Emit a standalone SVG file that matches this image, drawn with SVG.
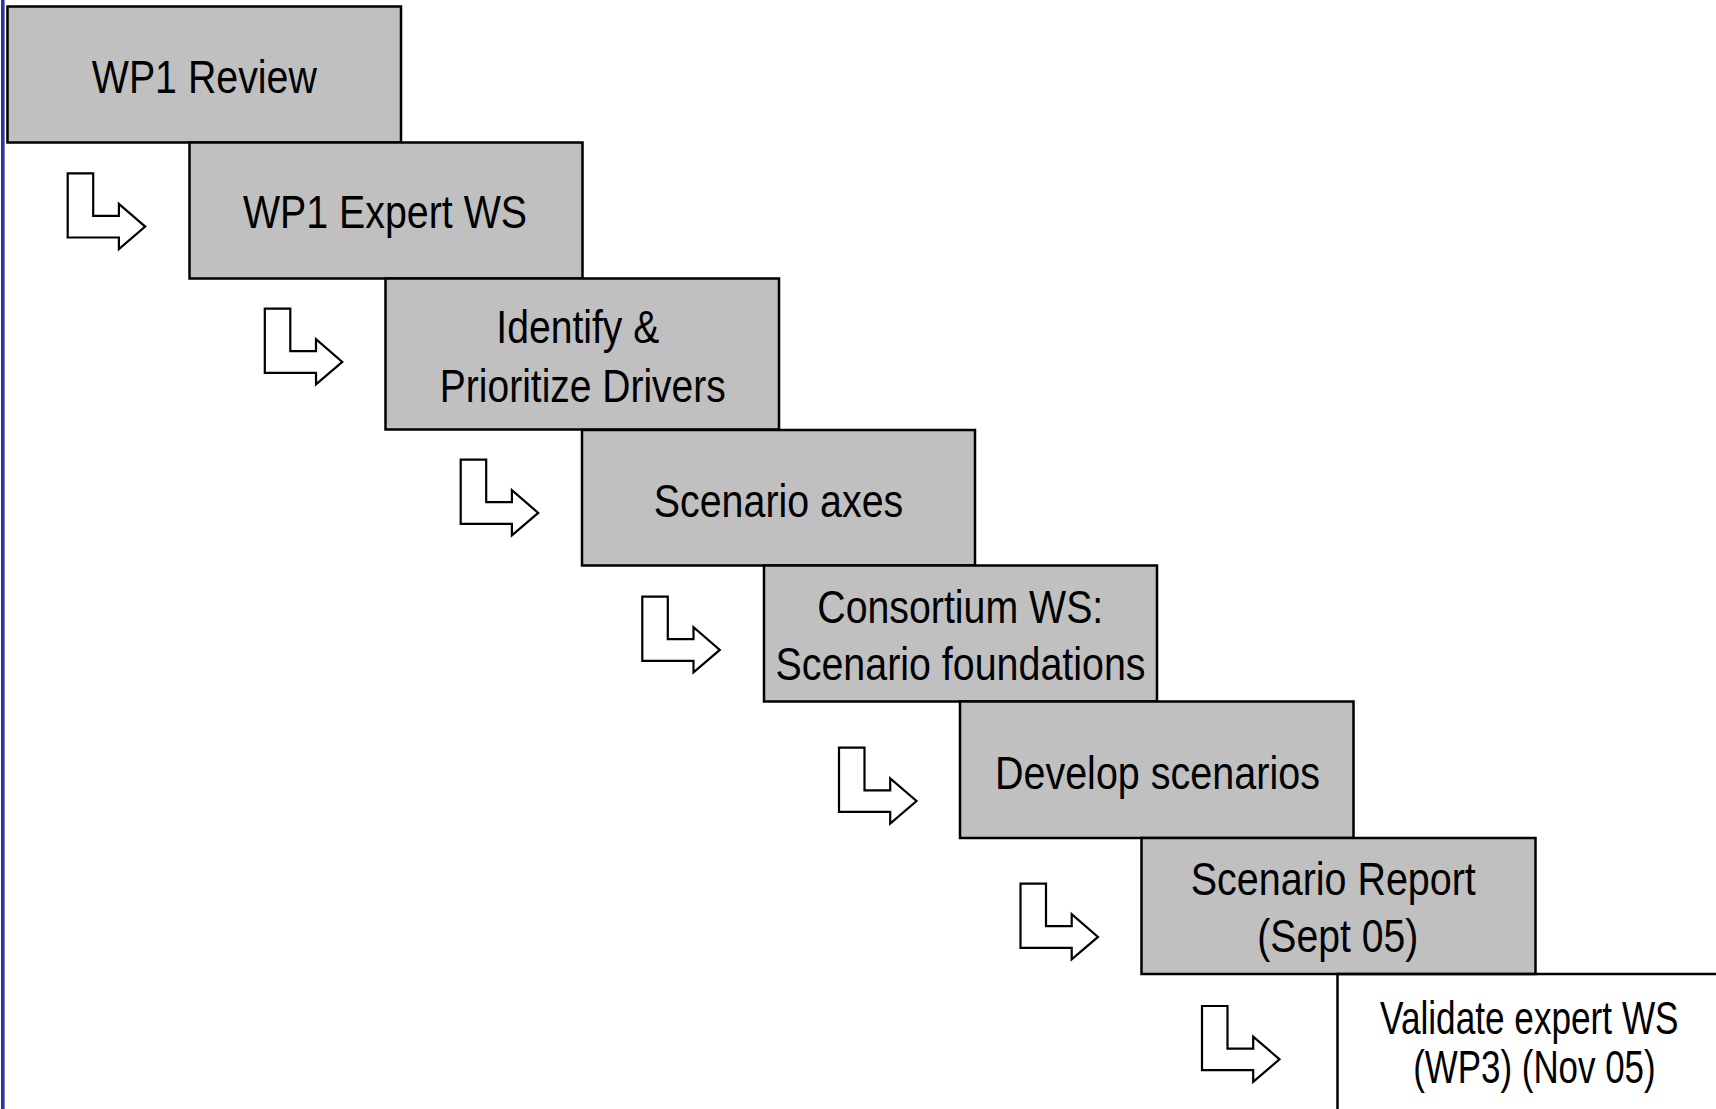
<svg xmlns="http://www.w3.org/2000/svg" width="1716" height="1109" viewBox="0 0 1716 1109">
<style>
.box{fill:#c0c0c0;stroke:#000;stroke-width:2.5}
.open{fill:none;stroke:#000;stroke-width:2.5}
.lbl{font-family:"Liberation Sans Narrow","Liberation Sans",Arial,sans-serif;font-size:46px;fill:#000;text-anchor:middle}
.arr{fill:#fff;stroke:#000;stroke-width:2.2;stroke-linejoin:miter}
</style>
<defs>
<path id="bent" d="M0,0 H25.5 V42.6 H51.2 V30.6 L77.5,53.3 L51.2,75.8 V64.2 H0 Z"/>
</defs>
<rect x="0" y="0" width="1716" height="1109" fill="#fff"/>
<rect x="1" y="0" width="3.6" height="1109" fill="#333399"/>

<g id="connectors">
<use href="#bent" class="arr" transform="translate(67.7,173.3)"/>
<use href="#bent" class="arr" transform="translate(264.8,308.6)"/>
<use href="#bent" class="arr" transform="translate(460.7,459.6)"/>
<use href="#bent" class="arr" transform="translate(642.3,596.6)"/>
<use href="#bent" class="arr" transform="translate(839,747.7)"/>
<use href="#bent" class="arr" transform="translate(1020.5,883.6)"/>
<use href="#bent" class="arr" transform="translate(1202,1006)"/>
</g>

<g id="node1">
<rect class="box" x="7.5" y="6.5" width="393.5" height="136"/>
<text class="lbl" x="204.3" y="93.3" textLength="225" lengthAdjust="spacingAndGlyphs">WP1 Review</text>
</g>
<g id="node2">
<rect class="box" x="189.5" y="142.5" width="393" height="136"/>
<text class="lbl" x="385" y="228" textLength="284" lengthAdjust="spacingAndGlyphs">WP1 Expert WS</text>
</g>
<g id="node3">
<rect class="box" x="385.5" y="278.5" width="393.5" height="151"/>
<text class="lbl" x="577.8" y="343.3" textLength="163" lengthAdjust="spacingAndGlyphs">Identify &amp;</text>
<text class="lbl" x="582.8" y="401.7" textLength="286" lengthAdjust="spacingAndGlyphs">Prioritize Drivers</text>
</g>
<g id="node4">
<rect class="box" x="582" y="430" width="393" height="135.5"/>
<text class="lbl" x="778.5" y="516.7" textLength="249.5" lengthAdjust="spacingAndGlyphs">Scenario axes</text>
</g>
<g id="node5">
<rect class="box" x="764" y="565.5" width="393" height="136"/>
<text class="lbl" x="960.3" y="623.3" textLength="286" lengthAdjust="spacingAndGlyphs">Consortium WS:</text>
<text class="lbl" x="960.5" y="680" textLength="370" lengthAdjust="spacingAndGlyphs">Scenario foundations</text>
</g>
<g id="node6">
<rect class="box" x="960" y="701.5" width="393.5" height="136.5"/>
<text class="lbl" x="1157.4" y="789" textLength="325" lengthAdjust="spacingAndGlyphs">Develop scenarios</text>
</g>
<g id="node7">
<rect class="box" x="1141.5" y="838" width="394" height="136"/>
<text class="lbl" x="1333.3" y="895" textLength="285" lengthAdjust="spacingAndGlyphs">Scenario Report</text>
<text class="lbl" x="1337.8" y="951.5" textLength="161" lengthAdjust="spacingAndGlyphs">(Sept 05)</text>
</g>
<g id="node8">
<path class="open" d="M1337.5,1109 V974 H1716"/>
<text class="lbl" x="1529.3" y="1034" textLength="298.5" lengthAdjust="spacingAndGlyphs">Validate expert WS</text>
<text class="lbl" x="1534.4" y="1083" textLength="242.5" lengthAdjust="spacingAndGlyphs">(WP3) (Nov 05)</text>
</g>
</svg>
